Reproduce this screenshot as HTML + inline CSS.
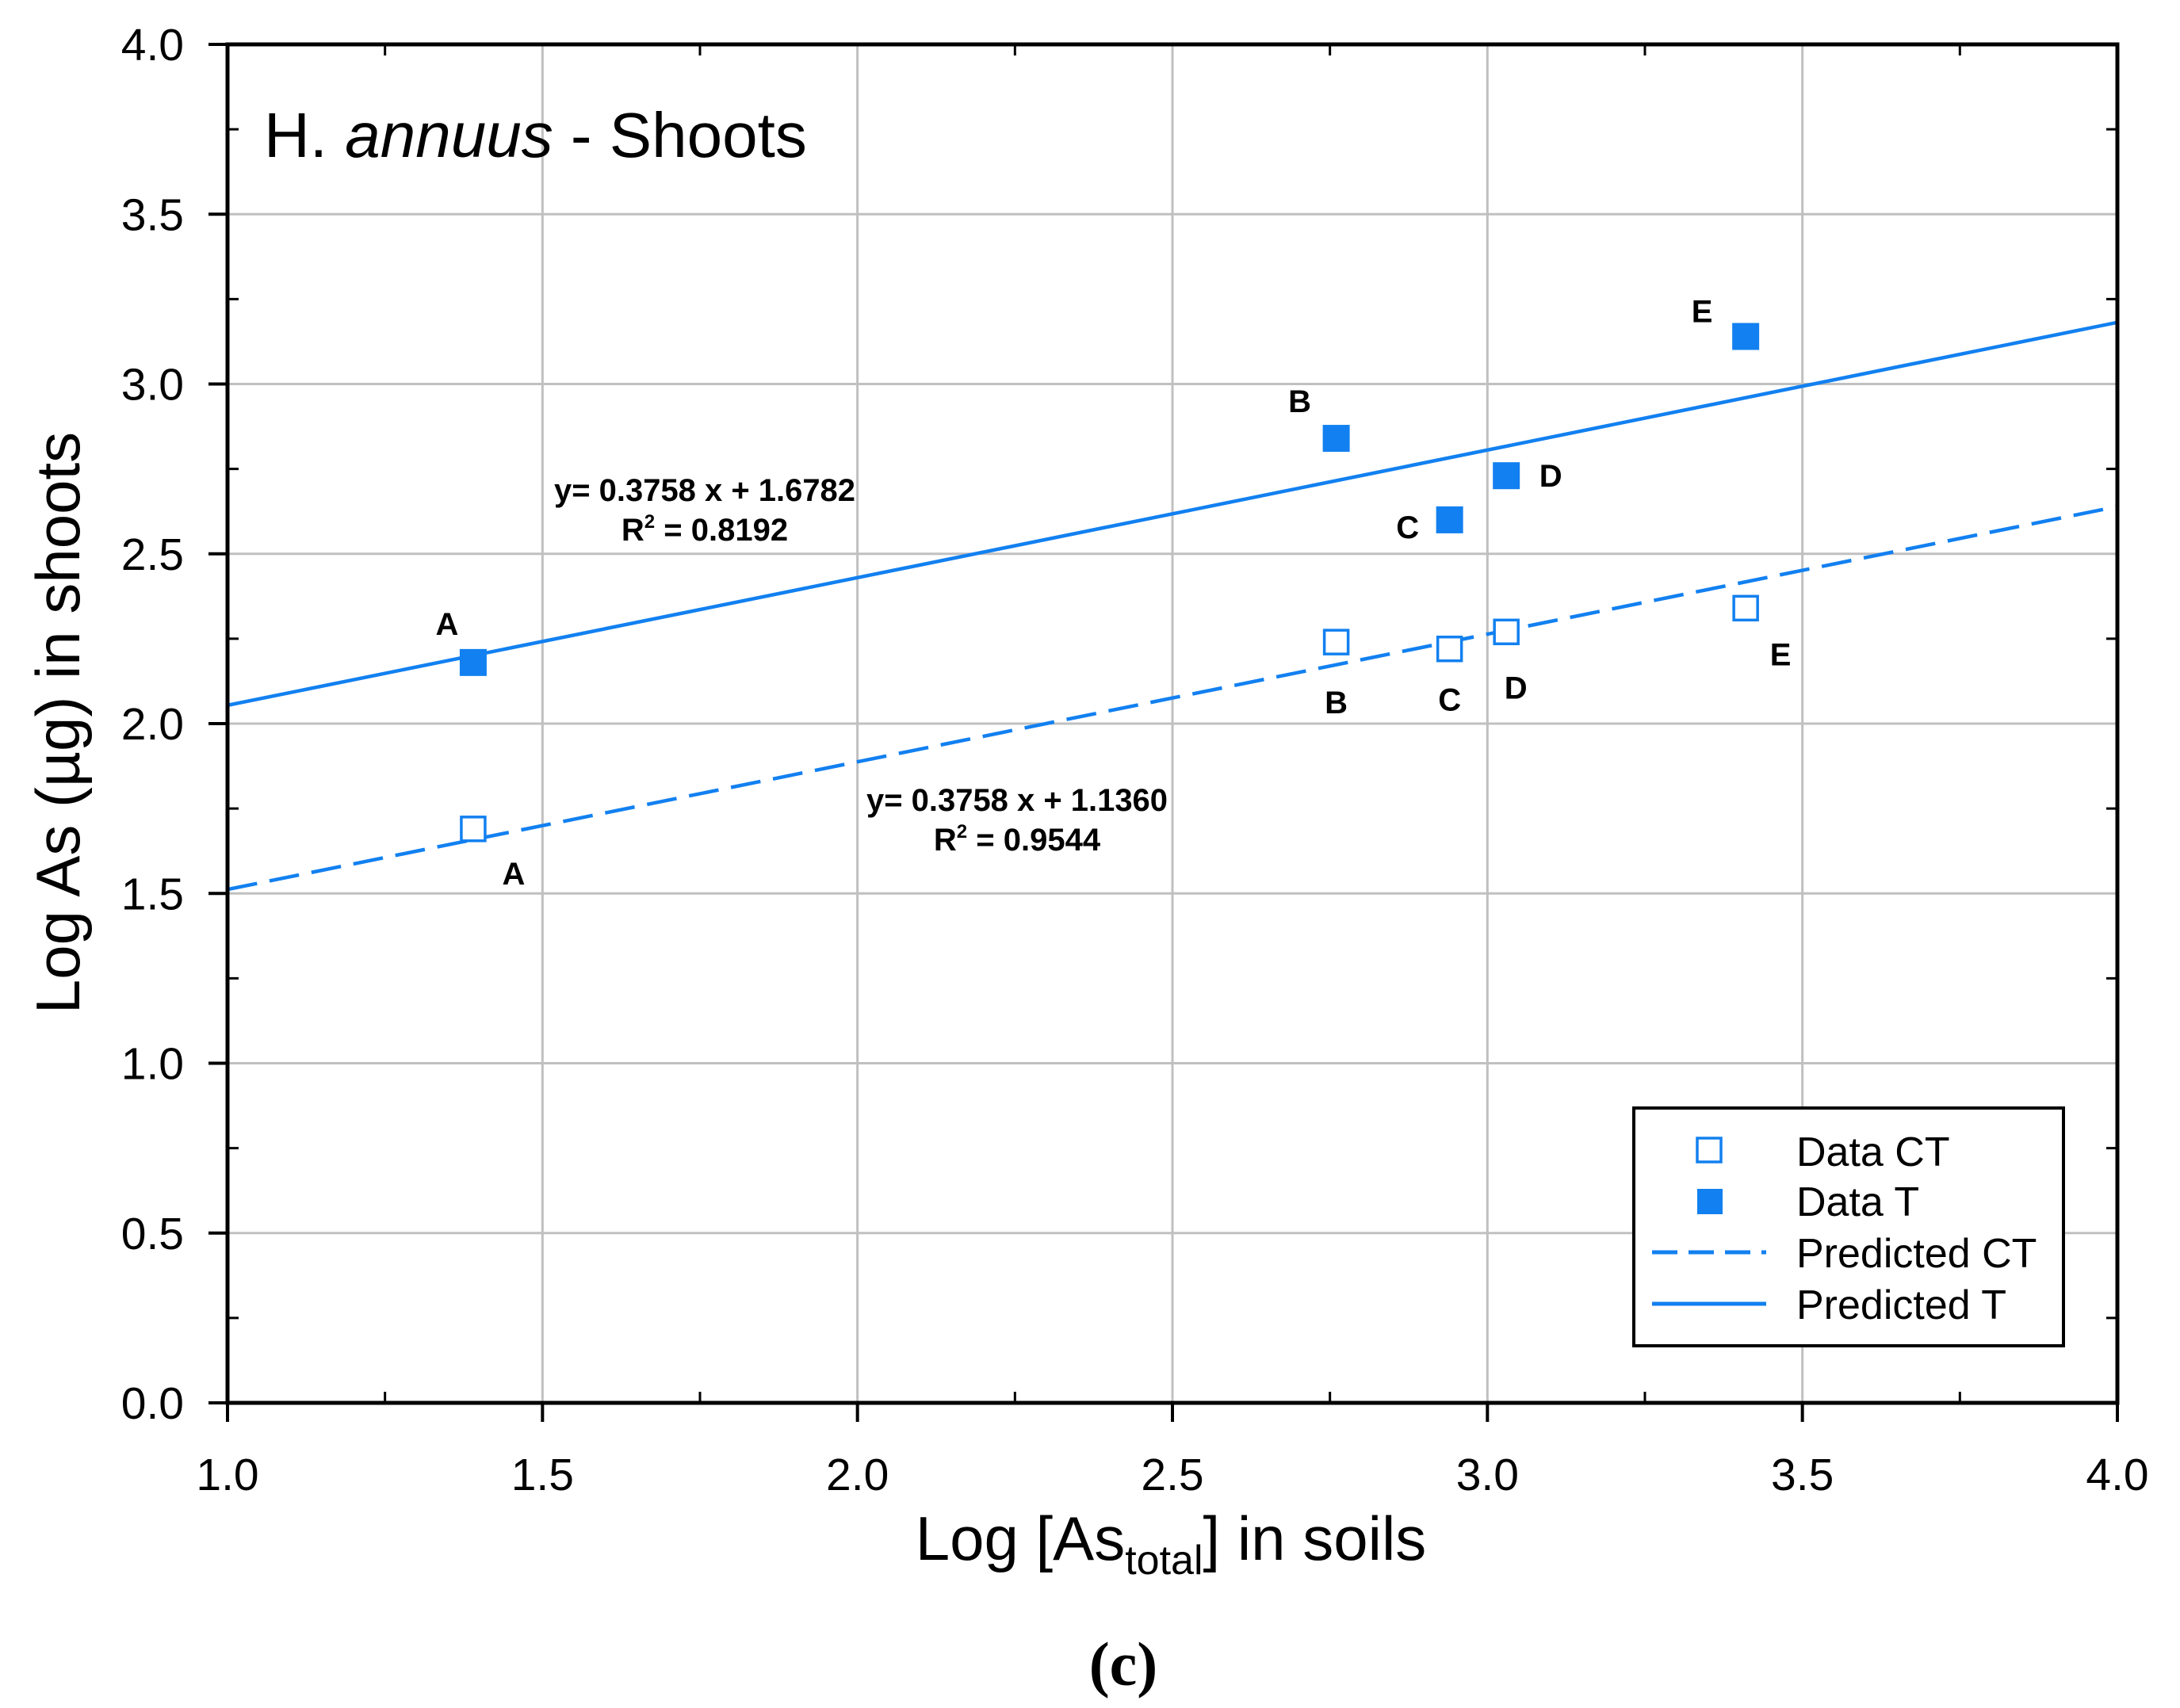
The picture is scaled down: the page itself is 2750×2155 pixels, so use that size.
<!DOCTYPE html>
<html><head><meta charset="utf-8"><style>
html,body{margin:0;padding:0;background:#fff}
svg{display:block}
text{font-family:"Liberation Sans",sans-serif;fill:#000}
.nar{font-family:"Liberation Sans Narrow","Liberation Sans",sans-serif;font-weight:bold}
</style></head><body>
<svg id="chart" width="2750" height="2155" viewBox="0 0 2750 2155" xmlns="http://www.w3.org/2000/svg">
<g id="grid"></g>
<g id="lines"></g>
<g id="points"></g>
<g id="axes"></g>
<text x="333" y="198" font-size="80">H. <tspan font-style="italic">annuus</tspan> - Shoots</text>
<text class="nar" x="889" y="632" font-size="40" text-anchor="middle" textLength="380" lengthAdjust="spacingAndGlyphs">y= 0.3758 x + 1.6782</text>
<text class="nar" x="889" y="682" font-size="40" text-anchor="middle">R<tspan font-size="24" dy="-16">2</tspan><tspan dy="16"> = 0.8192</tspan></text>
<text class="nar" x="1283" y="1023" font-size="40" text-anchor="middle" textLength="380" lengthAdjust="spacingAndGlyphs">y= 0.3758 x + 1.1360</text>
<text class="nar" x="1283" y="1073" font-size="40" text-anchor="middle">R<tspan font-size="24" dy="-16">2</tspan><tspan dy="16"> = 0.9544</tspan></text>
<text transform="translate(100,912) rotate(-90)" font-size="78" text-anchor="middle">Log As (µg) in shoots</text>
<text x="1477" y="1968" font-size="78" text-anchor="middle">Log [As<tspan font-size="52" dy="18">total</tspan><tspan dy="-18">] in soils</tspan></text>
<text x="1417" y="2126" font-size="78" font-weight="bold" text-anchor="middle" style="font-family:'Liberation Serif',serif">(c)</text>
<g>
<rect x="2061" y="1398" width="542" height="300" fill="#fff" stroke="#000" stroke-width="4"/>
<rect x="2141" y="1436" width="30" height="30" fill="#fff" stroke="#1280f0" stroke-width="3.5"/>
<text x="2266" y="1471" font-size="52">Data CT</text>
<rect x="2141" y="1500" width="32" height="32" fill="#1280f0"/>
<text x="2266" y="1534" font-size="52">Data T</text>
<line x1="2084" y1="1580" x2="2228" y2="1580" stroke="#1280f0" stroke-width="5" stroke-dasharray="32,14"/>
<text x="2266" y="1599" font-size="52">Predicted CT</text>
<line x1="2084" y1="1645" x2="2228" y2="1645" stroke="#1280f0" stroke-width="5"/>
<text x="2266" y="1664" font-size="52">Predicted T</text>
</g>
</svg>
<script>
const xTicks=[1.0,1.5,2.0,2.5,3.0,3.5,4.0];
const yTicks=[0.0,0.5,1.0,1.5,2.0,2.5,3.0,3.5,4.0];
const soils=["A","B","C","D","E"];
const xVals=[1.39,2.76,2.94,3.03,3.41];
const yT=[2.18,2.84,2.60,2.73,3.14];
const yCT=[1.69,2.24,2.22,2.27,2.34];
const slope=0.3758, interceptT=1.6782, interceptCT=1.1360;
const X0=287,X1=2671,Y0=1770,Y1=56,BLUE="#1280f0";
const sx=v=>X0+(v-1)/3*(X1-X0);
const sy=v=>Y0-v/4*(Y0-Y1);
const NS="http://www.w3.org/2000/svg";
function mk(tag,attrs,parent,txt){const e=document.createElementNS(NS,tag);for(const k in attrs)e.setAttribute(k,attrs[k]);if(txt!==undefined)e.textContent=txt;document.getElementById(parent).appendChild(e);return e;}
xTicks.forEach(v=>{
 if(v>1&&v<4){const g=mk('line',{x1:sx(v),x2:sx(v),y1:Y1,y2:Y0,stroke:'#c0c0c0','stroke-width':3},'grid');
 
 }
 const t=mk('line',{x1:sx(v),x2:sx(v),y1:Y0,y2:Y0+24,stroke:'#000','stroke-width':4},'axes');
 
 
 const l=mk('text',{x:sx(v),y:1880,'font-size':57,'text-anchor':'middle'},'axes',v.toFixed(1));
 
 
 if(v<4){[sx(v+0.25)].forEach(px=>{
  const m=mk('line',{x1:px,x2:px,y1:Y0,y2:Y0-14,stroke:'#000','stroke-width':3},'axes');
  
  
  const m2=mk('line',{x1:px,x2:px,y1:Y1,y2:Y1+14,stroke:'#000','stroke-width':3},'axes');
  
  });}
});
yTicks.forEach(v=>{
 if(v>0&&v<4){const g=mk('line',{x1:X0,x2:X1,y1:sy(v),y2:sy(v),stroke:'#c0c0c0','stroke-width':3},'grid');
 
 }
 const t=mk('line',{x1:X0-24,x2:X0,y1:sy(v),y2:sy(v),stroke:'#000','stroke-width':4},'axes');
 
 
 const l=mk('text',{x:232,y:sy(v)+20,'font-size':57,'text-anchor':'end'},'axes',v.toFixed(1));
 
 
 if(v<4){const py=sy(v+0.25);
  const m=mk('line',{x1:X0,x2:X0+14,y1:py,y2:py,stroke:'#000','stroke-width':3},'axes');
  
  
  const m2=mk('line',{x1:X1,x2:X1-14,y1:py,y2:py,stroke:'#000','stroke-width':3},'axes');
  
  }
});
const fr=mk('rect',{x:X0,y:Y1,width:X1-X0,height:Y0-Y1,fill:'none',stroke:'#000','stroke-width':5},'axes');


const lt=mk('line',{x1:sx(1),y1:sy(slope*1+interceptT),x2:sx(4),y2:sy(slope*4+interceptT),stroke:BLUE,'stroke-width':4.5},'lines');


const lc=mk('line',{x1:sx(1),y1:sy(slope*1+interceptCT),x2:sx(4),y2:sy(slope*4+interceptCT),stroke:BLUE,'stroke-width':4.5,'stroke-dasharray':'38,16'},'lines');


const offT=[[-33,-35],[-46,-33],[-53,23],[56,14],[-55,-18]];
const offCT=[[51,70],[0,90],[0,78],[12,84],[44,72]];
soils.forEach((s,i)=>{
 const p=mk('rect',{x:sx(xVals[i])-17,y:sy(yT[i])-17,width:34,height:34,fill:BLUE},'points');
 
 
 const q=mk('rect',{x:sx(xVals[i])-15,y:sy(yCT[i])-15,width:30,height:30,fill:'#fff',stroke:BLUE,'stroke-width':3.5},'points');
 
 
 const a=mk('text',{x:sx(xVals[i])+offT[i][0],y:sy(yT[i])+offT[i][1],'font-size':40,'text-anchor':'middle',class:'nar'},'points',s);
 
 
 const b=mk('text',{x:sx(xVals[i])+offCT[i][0],y:sy(yCT[i])+offCT[i][1],'font-size':40,'text-anchor':'middle',class:'nar'},'points',s);
 
 
});
</script>
</body></html>
